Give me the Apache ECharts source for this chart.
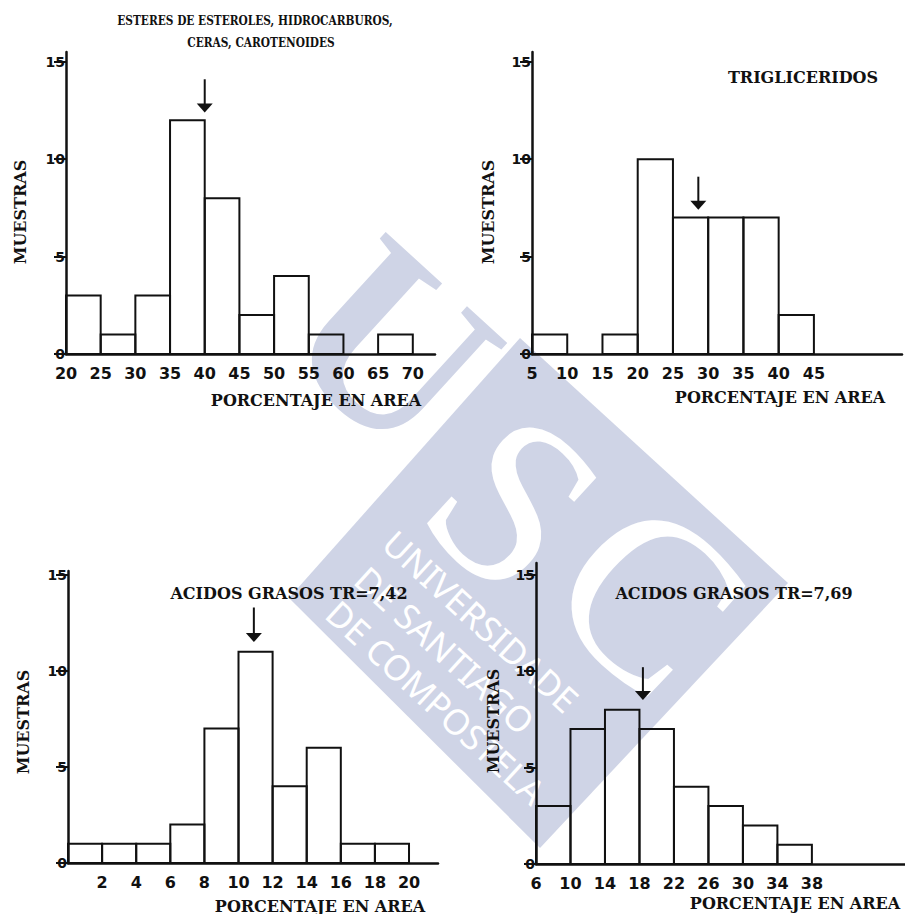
<!DOCTYPE html>
<html><head><meta charset="utf-8">
<script src="https://cdn.jsdelivr.net/npm/echarts@6/dist/echarts.min.js"></script>
<style>html,body{margin:0;padding:0;background:#fff}#c{width:905px;height:914px}</style>
</head><body><div id="c"></div>
<script>
// ---- data ----
// Panel 1: esteres de esteroles, hidrocarburos, ceras, carotenoides
const p1Edges = [20, 25, 30, 35, 40, 45, 50, 55, 60, 65, 70];
const p1Counts = [3, 1, 3, 12, 8, 2, 4, 1, 0, 1];
const p1Ticks = [20, 25, 30, 35, 40, 45, 50, 55, 60, 65, 70];
// Panel 2: trigliceridos
const p2Edges = [5, 10, 15, 20, 25, 30, 35, 40, 45];
const p2Counts = [1, 0, 1, 10, 7, 7, 7, 2];
const p2Ticks = [5, 10, 15, 20, 25, 30, 35, 40, 45];
// Panel 3: acidos grasos TR=7,42
const p3Edges = [0, 2, 4, 6, 8, 10, 12, 14, 16, 18, 20];
const p3Counts = [1, 1, 1, 2, 7, 11, 4, 6, 1, 1];
const p3Ticks = [2, 4, 6, 8, 10, 12, 14, 16, 18, 20];
// Panel 4: acidos grasos TR=7,69
const p4Edges = [6, 10, 14, 18, 22, 26, 30, 34, 38];
const p4Counts = [3, 7, 8, 7, 4, 3, 2, 1];
const p4Ticks = [6, 10, 14, 18, 22, 26, 30, 34, 38];
// y ticks (MUESTRAS)
const yTicks = [0, 5, 10, 15];
// arrows (mean markers), in data units, one per panel
const arrowX = [40, 28.6, 10.9, 18.4];
const arrowTop = [14.1, 9.1, 13.3, 10.2];
const arrowBottom = [12.4, 7.4, 11.5, 8.5];
// titles
const panelTitles = [
  ['ESTERES DE ESTEROLES, HIDROCARBUROS,', 'CERAS, CAROTENOIDES'],
  ['TRIGLICERIDOS'],
  ['ACIDOS GRASOS TR=7,42'],
  ['ACIDOS GRASOS TR=7,69']
];
const yName = 'MUESTRAS';
const xName = 'PORCENTAJE EN AREA';

// ---- build ----
const INK = '#111';
const WM = '#cfd4e6';
const SERIF = '"DejaVu Serif", "Liberation Serif", serif';
const SANS = '"DejaVu Sans", "Liberation Sans", sans-serif';

function bins(edges, counts) {
  return counts.map((c, i) => [edges[i], edges[i + 1], c]);
}
const panels = [
  { edges: p1Edges, counts: p1Counts, ticks: p1Ticks, xmin: 20, xmax: 73.2, ymax: 15.5, grid: { left: 66, top: 52, width: 369, height: 302 } },
  { edges: p2Edges, counts: p2Counts, ticks: p2Ticks, xmin: 5, xmax: 57.5, ymax: 15.5, grid: { left: 532, top: 52, width: 370, height: 302 } },
  { edges: p3Edges, counts: p3Counts, ticks: p3Ticks, xmin: 0, xmax: 21.7, ymax: 15.2, grid: { left: 68, top: 571, width: 370, height: 292 } },
  { edges: p4Edges, counts: p4Counts, ticks: p4Ticks, xmin: 6, xmax: 48.8, ymax: 15.6, grid: { left: 536, top: 563, width: 369, height: 301 } }
];

function histItem(params, api) {
  const c = api.value(2);
  if (c <= 0) return null;
  const p0 = api.coord([api.value(0), 0]);
  const p1 = api.coord([api.value(1), c]);
  return {
    type: 'rect',
    shape: { x: p0[0], y: p1[1], width: p1[0] - p0[0], height: p0[1] - p1[1] },
    style: { fill: 'none', stroke: INK, lineWidth: 2 }
  };
}
function arrowItem(params, api) {
  const x = api.value(0);
  const pt = api.coord([x, api.value(1)]);
  const pb = api.coord([x, api.value(2)]);
  const hw = 8, hh = 9;
  return {
    type: 'group',
    children: [
      { type: 'line', shape: { x1: pt[0], y1: pt[1], x2: pb[0], y2: pb[1] - hh + 1 }, style: { stroke: INK, lineWidth: 2 } },
      { type: 'polygon', shape: { points: [[pb[0] - hw, pb[1] - hh], [pb[0] + hw, pb[1] - hh], [pb[0], pb[1]]] }, style: { fill: INK } }
    ]
  };
}

const grid = [], xAxis = [], yAxis = [], series = [];
panels.forEach((p, i) => {
  grid.push(Object.assign({ outerBoundsMode: 'none', containLabel: false }, p.grid));
  xAxis.push({
    type: 'value', gridIndex: i, min: p.xmin, max: p.xmax,
    axisLine: { show: true, onZero: false, lineStyle: { color: INK, width: 2.5 } },
    axisTick: { show: false }, splitLine: { show: false },
    axisLabel: { customValues: p.ticks, margin: 11, color: INK, fontFamily: SANS, fontWeight: 'bold', fontSize: 16, showMinLabel: true, showMaxLabel: true }
  });
  yAxis.push({
    type: 'value', gridIndex: i, min: 0, max: p.ymax,
    axisLine: { show: true, onZero: false, lineStyle: { color: INK, width: 2.5 } },
    axisTick: { show: true, customValues: yTicks, length: 12, lineStyle: { color: INK, width: 2 } },
    splitLine: { show: false },
    axisLabel: { customValues: yTicks, margin: 1, color: INK, fontFamily: SANS, fontWeight: 'bold', fontSize: 14, padding: [0, 0, 4, 0] }
  });
  series.push({
    type: 'custom', xAxisIndex: i, yAxisIndex: i, renderItem: histItem,
    encode: { x: [0, 1], y: 2 }, data: bins(p.edges, p.counts), z: 3, silent: true
  });
  series.push({
    type: 'custom', xAxisIndex: i, yAxisIndex: i, renderItem: arrowItem,
    encode: { x: 0, y: [1, 2] }, data: [[arrowX[i], arrowTop[i], arrowBottom[i]]], z: 4, silent: true
  });
});

function txt(x, y, text, size, opts) {
  opts = opts || {};
  return {
    type: 'text', x: x, y: y, rotation: opts.rot || 0, scaleX: opts.sx || 1, scaleY: opts.sy || 1,
    z: opts.z != null ? opts.z : 10, silent: true,
    style: {
      text: text, x: 0, y: 0, align: 'center', verticalAlign: 'middle',
      font: (opts.weight || 'bold') + ' ' + size + 'px ' + (opts.family || SERIF),
      fill: opts.fill || INK
    }
  };
}

const R = -0.74;
const WMF = '"Liberation Serif", serif';
const WMT = '"Noto Sans", sans-serif';
const graphic = [
  // watermark
  { type: 'polygon', z: -10, silent: true, shape: { points: [[520, 338], [788, 583], [540, 848], [289, 598]] }, style: { fill: WM } },
  txt(394, 345, 'U', 245, { rot: R, z: -9, weight: 'bold', family: WMF, fill: WM }),
  txt(515, 502, 'S', 240, { rot: R, z: -9, weight: 'normal', family: WMF, fill: '#fff' }),
  txt(650, 596, 'C', 240, { rot: R, z: -9, weight: 'normal', family: WMF, fill: '#fff' }),
  txt(481, 621, 'UNIVERSIDADE', 35, { rot: R, z: -9, weight: 'normal', family: WMT, fill: '#fff' }),
  txt(445, 650, 'DE SANTIAGO', 35, { rot: R, z: -9, weight: 'normal', family: WMT, fill: '#fff' }),
  txt(436, 702, 'DE COMPOSTELA', 35, { rot: R, z: -9, weight: 'normal', family: WMT, fill: '#fff' }),
  // titles
  txt(255, 20, panelTitles[0][0], 10.6, { sy: 1.3 }),
  txt(261, 42, panelTitles[0][1], 10.6, { sy: 1.3 }),
  txt(803, 77, panelTitles[1][0], 16),
  txt(289, 593, panelTitles[2][0], 16),
  txt(734, 593, panelTitles[3][0], 16),
  // y names
  txt(20, 212, yName, 16, { rot: Math.PI / 2 }),
  txt(488, 212, yName, 16, { rot: Math.PI / 2 }),
  txt(23, 722, yName, 16, { rot: Math.PI / 2 }),
  txt(493, 721, yName, 16, { rot: Math.PI / 2 }),
  // x names
  txt(316, 400, xName, 16),
  txt(780, 397, xName, 16),
  txt(320, 906, xName, 16),
  txt(795, 903, xName, 16)
];

const chart = echarts.init(document.getElementById('c'), null, { renderer: 'svg' });
chart.setOption({
  backgroundColor: '#fff',
  animation: false,
  grid: grid, xAxis: xAxis, yAxis: yAxis, series: series, graphic: graphic
});
</script>
</body></html>
